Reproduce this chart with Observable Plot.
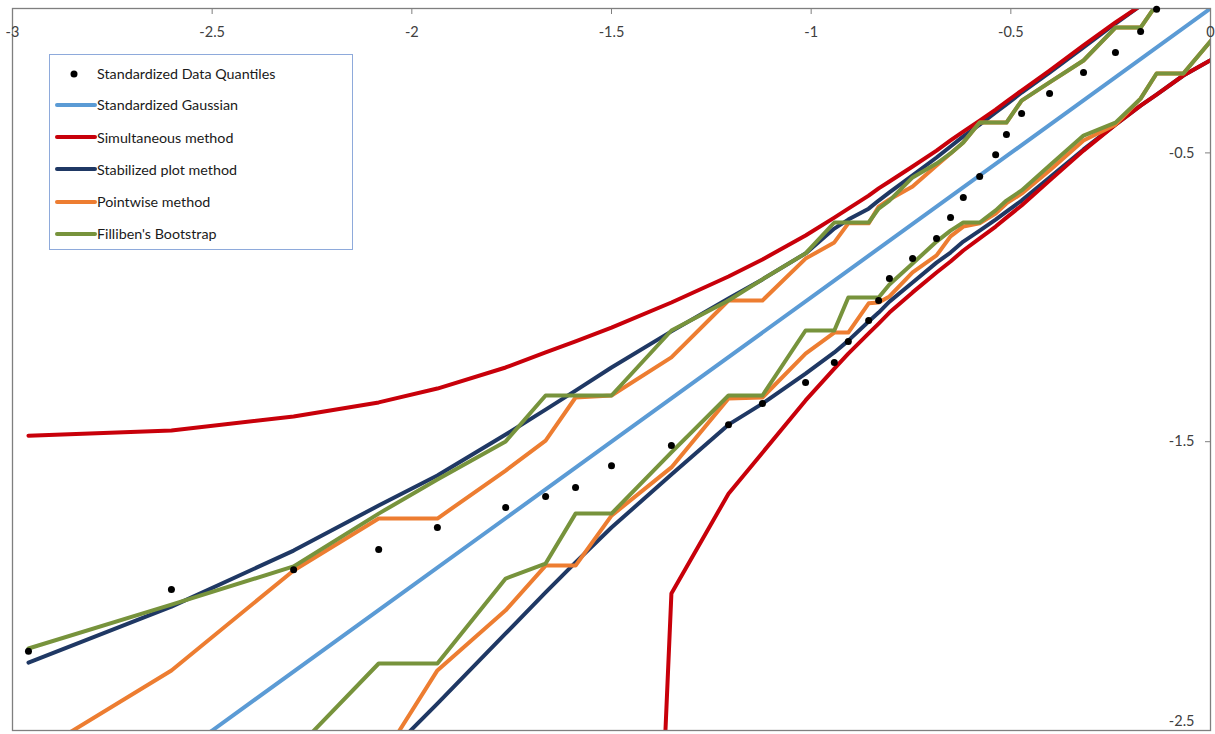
<!DOCTYPE html>
<html><head><meta charset="utf-8">
<script src="https://cdn.jsdelivr.net/npm/d3@7"></script>
<script src="https://cdn.jsdelivr.net/npm/@observablehq/plot@0.6"></script>
<style>
html,body{margin:0;padding:0;background:#fff;}
#wrap{position:relative;width:1215px;height:734px;overflow:hidden;font-family:Lato,"Open Sans",sans-serif;}
#legend{position:absolute;left:49px;top:54px;width:304px;height:196px;box-sizing:border-box;border:1px solid #8eaadb;background:#fff;}
.row{position:absolute;left:0;height:20px;display:flex;align-items:center;font-size:14.3px;color:#1a1a1a;white-space:nowrap;}
.row svg{display:block;}
</style></head><body><div id="wrap"><div id="legend"></div></div>
<script>
// theoretical positions (x) of the data points
const xPos = [-2.960, -2.602, -2.296, -2.083, -1.936, -1.765, -1.665, -1.590, -1.500, -1.350,
  -1.207, -1.122, -1.014, -0.942, -0.907, -0.856, -0.831, -0.804, -0.746, -0.686,
  -0.651, -0.619, -0.578, -0.538, -0.511, -0.473, -0.403, -0.318, -0.238, -0.175, -0.135];
// further positions where only the lower bands are still visible
const xExtra = [-0.068, 0.075];

const dataQuantiles = [-2.226, -2.012, -1.943, -1.873, -1.797, -1.728, -1.690, -1.659, -1.583, -1.513,
  -1.441, -1.368, -1.295, -1.226, -1.153, -1.080, -1.011, -0.935, -0.866, -0.796,
  -0.724, -0.654, -0.582, -0.506, -0.436, -0.364, -0.294, -0.222, -0.152, -0.080, -0.003];

const gaussX = [-3, -2.5, -2, -1.5, -1, -0.5, 0];
const gaussY = [-3, -2.5, -2, -1.5, -1, -0.5, 0];

const simUpper = [-1.479, -1.461, -1.413, -1.364, -1.316, -1.243, -1.191, -1.153, -1.105, -1.018,
  -0.928, -0.869, -0.786, -0.724, -0.693, -0.648, -0.623, -0.599, -0.547, -0.492,
  -0.457, -0.426, -0.388, -0.350, -0.322, -0.284, -0.215, -0.128, -0.048, 0.010, 0.048, null, null];
const simLower = [null, null, null, null, null, null, null, null, -6.8, -2.026,
  -1.680, -1.538, -1.357, -1.247, -1.195, -1.125, -1.091, -1.053, -0.983, -0.914,
  -0.876, -0.838, -0.796, -0.755, -0.724, -0.682, -0.596, -0.492, -0.402, -0.336, -0.298, -0.232, -0.121];

const stabUpper = [-2.265, -2.071, -1.877, -1.721, -1.617, -1.475, -1.389, -1.323, -1.243, -1.118,
  -1.004, -0.938, -0.848, -0.762, -0.731, -0.693, -0.665, -0.637, -0.578, -0.516,
  -0.478, -0.443, -0.402, -0.360, -0.332, -0.291, -0.222, -0.135, -0.052, 0.010, 0.050, null, null];
const stabLower = [null, null, -2.916, -2.611, -2.407, -2.164, -2.022, -1.918, -1.797, -1.614,
  -1.441, -1.368, -1.264, -1.191, -1.150, -1.084, -1.053, -1.015, -0.949, -0.880,
  -0.845, -0.807, -0.769, -0.731, -0.703, -0.665, -0.585, -0.488, -0.402, -0.336, -0.298, -0.232, -0.121];

const pointUpper = [-2.594, -2.292, -1.946, -1.766, -1.766, -1.600, -1.496, -1.347, -1.340, -1.208,
  -1.011, -1.011, -0.866, -0.810, -0.744, -0.744, -0.686, -0.661, -0.616, -0.544,
  -0.502, -0.464, -0.395, -0.395, -0.395, -0.319, -0.256, -0.180, -0.066, -0.066, 0.014, null, null];
const pointLower = [null, null, null, -2.614, -2.292, -2.084, -1.929, -1.929, -1.756, -1.589,
  -1.350, -1.347, -1.195, -1.122, -1.122, -1.021, -1.018, -0.997, -0.914, -0.855,
  -0.789, -0.755, -0.744, -0.710, -0.675, -0.641, -0.561, -0.457, -0.402, -0.312, -0.225, -0.225, 0.010];

const fillUpper = [-2.216, -2.064, -1.932, -1.749, -1.631, -1.499, -1.340, -1.340, -1.340, -1.115,
  -1.011, -0.938, -0.848, -0.741, -0.741, -0.741, -0.693, -0.665, -0.585, -0.537,
  -0.502, -0.464, -0.395, -0.395, -0.395, -0.319, -0.256, -0.180, -0.066, -0.066, 0.014, null, null];
const fillLower = [null, null, -2.573, -2.268, -2.268, -1.974, -1.922, -1.749, -1.749, -1.537,
  -1.340, -1.340, -1.115, -1.115, -1.001, -1.001, -1.001, -0.956, -0.883, -0.807,
  -0.769, -0.741, -0.741, -0.699, -0.665, -0.630, -0.544, -0.440, -0.395, -0.312, -0.225, -0.225, 0.010];

const xTicks = [-3, -2.5, -2, -1.5, -1, -0.5, 0];
const yTicks = [-0.5, -1.5, -2.5];

const seriesNames = ["Standardized Data Quantiles", "Standardized Gaussian", "Simultaneous method",
  "Stabilized plot method", "Pointwise method", "Filliben's Bootstrap"];
const seriesColors = ["#000000", "#5b9bd5", "#c8000a", "#1f3864", "#ed7d31", "#77933c"];

const allX = xPos.concat(xExtra);
const rows = ys => ys.map((y, i) => ({x: allX[i], y})).filter(d => d.y != null);
const lineOpts = c => ({x: "x", y: "y", stroke: c, strokeWidth: 4, strokeLinejoin: "round", strokeLinecap: "round", clip: true});

const chart = Plot.plot({
  width: 1215, height: 734,
  marginLeft: 12, marginRight: 5, marginTop: 8, marginBottom: 4,
  x: {domain: [-3, 0]},
  y: {domain: [-2.5, 0]},
  style: {fontFamily: "Lato, 'Open Sans', sans-serif", fontSize: "14.5px", background: "white"},
  marks: [
    Plot.line(gaussX.map((x, i) => ({x, y: gaussY[i]})), lineOpts(seriesColors[1])),
    Plot.line(rows(stabUpper), lineOpts(seriesColors[3])),
    Plot.line(rows(stabLower), lineOpts(seriesColors[3])),
    Plot.line(rows(simUpper), lineOpts(seriesColors[2])),
    Plot.line(rows(simLower), lineOpts(seriesColors[2])),
    Plot.line(rows(pointUpper), lineOpts(seriesColors[4])),
    Plot.line(rows(pointLower), lineOpts(seriesColors[4])),
    Plot.line(rows(fillUpper), lineOpts(seriesColors[5])),
    Plot.line(rows(fillLower), lineOpts(seriesColors[5])),
    Plot.frame({stroke: "#7f7f7f", strokeWidth: 1.3}),
    Plot.dot(dataQuantiles.map((y, i) => ({x: xPos[i], y})), {x: "x", y: "y", r: 3.5, fill: seriesColors[0], stroke: null}),
    Plot.axisX({anchor: "top", ticks: xTicks, tickSize: 5, dy: 5, fill: "none", stroke: "#7f7f7f", label: null}),
    Plot.axisX({anchor: "top", ticks: xTicks, tickSize: 0, tickPadding: 0, dy: 24, lineAnchor: "middle",
      tickFormat: d => String(d), fill: "#404040", label: null}),
    Plot.axisY({anchor: "right", ticks: yTicks, tickSize: 6, dx: -6, fill: "none", stroke: "#7f7f7f", label: null}),
    Plot.axisY({anchor: "right", ticks: yTicks.slice(0, 2), tickSize: 0, tickPadding: 0, dx: -16, textAnchor: "end",
      tickFormat: d => String(d), fill: "#404040", label: null}),
    Plot.axisY({anchor: "right", ticks: yTicks.slice(2), tickSize: 0, tickPadding: 0, dx: -16, dy: -9, textAnchor: "end",
      tickFormat: d => String(d), fill: "#404040", label: null})
  ]
});
document.getElementById("wrap").prepend(chart);

// legend
const legend = document.getElementById("legend");
const rowCenters = [18.5, 49.5, 82, 114, 146.5, 178.5];
seriesNames.forEach((name, i) => {
  const row = document.createElement("div");
  row.className = "row";
  row.style.top = (rowCenters[i] - 10) + "px";
  const sw = i === 0
    ? `<svg width="47" height="20"><circle cx="24" cy="10" r="3.5" fill="${seriesColors[i]}"/></svg>`
    : `<svg width="47" height="20"><line x1="7" y1="10" x2="45" y2="10" stroke="${seriesColors[i]}" stroke-width="4" stroke-linecap="round"/></svg>`;
  row.innerHTML = sw + `<span>${name}</span>`;
  legend.appendChild(row);
});
</script></body></html>
